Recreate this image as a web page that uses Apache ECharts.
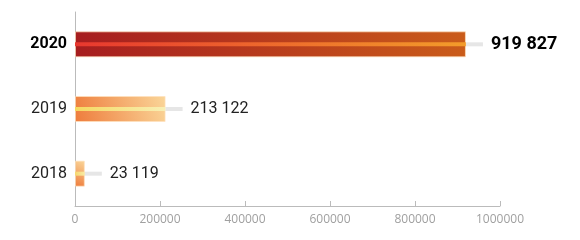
<!DOCTYPE html>
<html><head><meta charset="utf-8">
<script src="https://cdn.jsdelivr.net/npm/echarts@6/dist/echarts.min.js"></script>
<style>html,body{margin:0;padding:0;background:#fff}#c{width:580px;height:240px}</style>
</head><body><div id="c"></div>
<script>
var categories = ['2018', '2019', '2020'];
var values = [23119, 213122, 919827];
var xTicks = [0, 200000, 400000, 600000, 800000, 1000000];

var barFills = [
  ['#ee7c3c', '#fad699', 'diag'],
  ['#ee7c3c', '#fad699', 'diag'],
  ['#a61d1f', '#ca5c1a', 'horiz']
];
var lineFills = [
  ['#f5d870', '#f8eaa4'],
  ['#f5d860', '#f8efb4'],
  ['#e8382f', '#f39c2a']
];

function grad(c, mode) {
  if (mode === 'diag') return new echarts.graphic.LinearGradient(0, 1, 1, 0, [{offset: 0, color: c[0]}, {offset: 1, color: c[1]}]);
  return new echarts.graphic.LinearGradient(0, 0, 1, 0, [{offset: 0, color: c[0]}, {offset: 1, color: c[1]}]);
}
function fmt(v) { return String(v).replace(/\B(?=(\d{3})+(?!\d))/g, ' '); }

var chart = echarts.init(document.getElementById('c'), null, {renderer: 'canvas'});
chart.setOption({
  animation: false,
  grid: {left: 75, right: 80, top: 12, bottom: 34},
  xAxis: {
    type: 'value', min: 0, max: 1000000, interval: 200000,
    splitLine: {show: false},
    axisLine: {show: true, lineStyle: {color: '#bbbbbb', width: 1}},
    axisTick: {show: true, inside: true, length: 5, lineStyle: {color: '#bbbbbb'}},
    axisLabel: {color: '#a0a0a0', fontFamily: 'Open Sans', fontSize: 12, margin: 8,
      formatter: function (v) { return xTicks.indexOf(v) >= 0 ? String(v) : ''; }}
  },
  yAxis: [{
    type: 'category', data: categories,
    axisLine: {show: true, lineStyle: {color: '#bbbbbb', width: 1}},
    axisTick: {show: false},
    axisLabel: {margin: 8, fontFamily: 'Roboto', fontSize: 16, color: '#222',
      formatter: function (v) { return v === '2020' ? '{b|' + v + '}' : v; },
      rich: {b: {fontFamily: 'Roboto', fontSize: 16, fontWeight: 'bold', color: '#000'}}}
  }, {
    type: 'category', data: categories, show: false, position: 'left'
  }],
  series: [
    {
      type: 'bar', barWidth: 26, z: 2, yAxisIndex: 0,
      data: values.map(function (v, i) {
        return {value: v, itemStyle: {color: grad(barFills[i], barFills[i][2]), borderColor: 'rgba(255,225,190,0.7)', borderWidth: 1}};
      })
    },
    {
      type: 'bar', barWidth: 4, z: 3, yAxisIndex: 1,
      data: values.map(function (v, i) {
        return {value: v, itemStyle: {color: grad(lineFills[i], 'horiz')},
          label: {show: true, position: 'right', distance: 0,
            formatter: (i === 2 ? '{l| }{vb|' : '{l| }{v|') + fmt(v) + '}',
            rich: {
              l: {width: 17, height: 4, backgroundColor: '#e6e6e6', fontSize: 1, lineHeight: 4},
              v: {fontFamily: 'Roboto', fontSize: 16, color: '#222', padding: [0, 0, 0, 8]},
              vb: {fontFamily: 'Roboto', fontSize: 18, fontWeight: 'bold', color: '#000', padding: [0, 0, 0, 8]}
            }}};
      })
    }
  ]
});
</script></body></html>
